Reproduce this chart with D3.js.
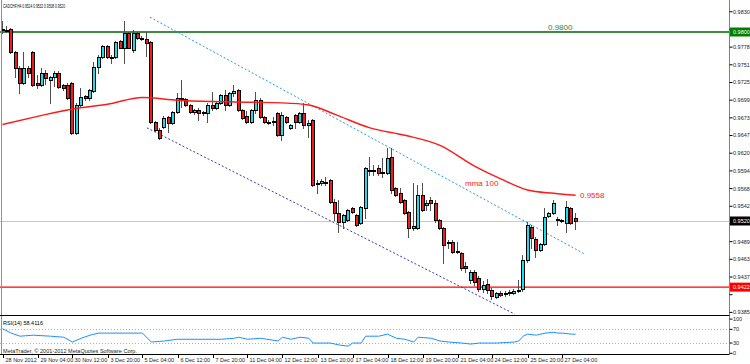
<!DOCTYPE html>
<html>
<head>
<meta charset="utf-8">
<script src="https://cdn.jsdelivr.net/npm/d3@7"></script>
<style>
  body { margin: 0; background: #fff; }
  text { font-family: "Liberation Sans", Arial, sans-serif; }
</style>
</head>
<body>
<div id="chart"></div>
<script>
// CADCHF H4 candles (bar 0 = leftmost)
const open = [
  0.9803, 0.9803, 0.9804, 0.9770, 0.9746, 0.9724, 0.9746, 0.9770, 0.9724, 0.9721,
  0.9739, 0.9729, 0.9733, 0.9740, 0.9721, 0.9721, 0.9724, 0.9650, 0.9692, 0.9705,
  0.9702, 0.9712, 0.9748, 0.9763, 0.9779, 0.9763, 0.9763, 0.9786, 0.9776, 0.9798,
  0.9773, 0.9798, 0.9791, 0.9789, 0.9785, 0.9666, 0.9655, 0.9659, 0.9674, 0.9665,
  0.9681, 0.9701, 0.9701, 0.9692, 0.9681, 0.9684, 0.9680, 0.9680, 0.9692, 0.9687,
  0.9695, 0.9706, 0.9692, 0.9709, 0.9714, 0.9684, 0.9675, 0.9666, 0.9684, 0.9699,
  0.9674, 0.9666, 0.9668, 0.9680, 0.9647, 0.9674, 0.9658, 0.9677, 0.9666, 0.9680,
  0.9662, 0.9669, 0.9576, 0.9576, 0.9578, 0.9581, 0.9548, 0.9532, 0.9518, 0.9521,
  0.9539, 0.9529, 0.9517, 0.9539, 0.9595, 0.9595, 0.9598, 0.9592, 0.9591, 0.9615,
  0.9569, 0.9561, 0.9551, 0.9533, 0.9510, 0.9510, 0.9558, 0.9544, 0.9551, 0.9547,
  0.9521, 0.9510, 0.9487, 0.9489, 0.9474, 0.9473, 0.9453, 0.9433, 0.9444, 0.9436,
  0.9419, 0.9427, 0.9418, 0.9407, 0.9413, 0.9412, 0.9413, 0.9413, 0.9416, 0.9419,
  0.9462, 0.9511, 0.9493, 0.9477, 0.9486, 0.9527, 0.9532, 0.9523, 0.9521, 0.9517,
  0.9539, 0.9524];
const high = [
  0.9816, 0.9809, 0.9806, 0.9772, 0.9749, 0.9770, 0.9749, 0.9772, 0.9736, 0.9746,
  0.9743, 0.9735, 0.9742, 0.9742, 0.9723, 0.9724, 0.9726, 0.9695, 0.9717, 0.9706,
  0.9715, 0.9755, 0.9766, 0.9780, 0.9780, 0.9766, 0.9786, 0.9788, 0.9817, 0.9800,
  0.9803, 0.9800, 0.9794, 0.9800, 0.9786, 0.9668, 0.9658, 0.9675, 0.9675, 0.9683,
  0.9709, 0.9729, 0.9702, 0.9693, 0.9686, 0.9687, 0.9683, 0.9695, 0.9711, 0.9696,
  0.9708, 0.9714, 0.9711, 0.9721, 0.9715, 0.9686, 0.9683, 0.9686, 0.9711, 0.9702,
  0.9675, 0.9669, 0.9674, 0.9681, 0.9681, 0.9675, 0.9663, 0.9678, 0.9681, 0.9695,
  0.9669, 0.9671, 0.9581, 0.9582, 0.9585, 0.9582, 0.9552, 0.9551, 0.9530, 0.9538,
  0.9541, 0.9530, 0.9542, 0.9600, 0.9615, 0.9603, 0.9603, 0.9613, 0.9628, 0.9628,
  0.9570, 0.9569, 0.9552, 0.9535, 0.9576, 0.9573, 0.9576, 0.9551, 0.9555, 0.9551,
  0.9523, 0.9511, 0.9492, 0.9492, 0.9489, 0.9474, 0.9459, 0.9447, 0.9447, 0.9439,
  0.9431, 0.9434, 0.9421, 0.9415, 0.9416, 0.9416, 0.9418, 0.9419, 0.9433, 0.9470,
  0.9518, 0.9514, 0.9496, 0.9487, 0.9539, 0.9533, 0.9551, 0.9526, 0.9523, 0.9550,
  0.9541, 0.9532];
const low = [
  0.9798, 0.9800, 0.9769, 0.9733, 0.9709, 0.9723, 0.9733, 0.9720, 0.9717, 0.9720,
  0.9723, 0.9695, 0.9720, 0.9717, 0.9714, 0.9701, 0.9649, 0.9649, 0.9690, 0.9699,
  0.9699, 0.9711, 0.9739, 0.9761, 0.9761, 0.9754, 0.9761, 0.9776, 0.9754, 0.9776,
  0.9770, 0.9789, 0.9788, 0.9764, 0.9665, 0.9653, 0.9641, 0.9658, 0.9652, 0.9663,
  0.9680, 0.9689, 0.9690, 0.9680, 0.9678, 0.9669, 0.9677, 0.9666, 0.9684, 0.9686,
  0.9693, 0.9684, 0.9690, 0.9705, 0.9683, 0.9671, 0.9665, 0.9665, 0.9680, 0.9672,
  0.9665, 0.9663, 0.9662, 0.9646, 0.9640, 0.9665, 0.9656, 0.9658, 0.9665, 0.9658,
  0.9644, 0.9572, 0.9561, 0.9573, 0.9573, 0.9547, 0.9521, 0.9504, 0.9510, 0.9520,
  0.9532, 0.9513, 0.9515, 0.9524, 0.9588, 0.9588, 0.9588, 0.9585, 0.9589, 0.9561,
  0.9557, 0.9547, 0.9530, 0.9496, 0.9507, 0.9508, 0.9535, 0.9536, 0.9536, 0.9518,
  0.9508, 0.9458, 0.9480, 0.9473, 0.9473, 0.9447, 0.9444, 0.9428, 0.9425, 0.9416,
  0.9415, 0.9413, 0.9404, 0.9406, 0.9409, 0.9409, 0.9410, 0.9412, 0.9415, 0.9416,
  0.9459, 0.9480, 0.9467, 0.9476, 0.9484, 0.9526, 0.9530, 0.9514, 0.9518, 0.9504,
  0.9515, 0.9508];
const close = [
  0.9804, 0.9802, 0.9770, 0.9746, 0.9724, 0.9746, 0.9739, 0.9721, 0.9721, 0.9739,
  0.9732, 0.9733, 0.9740, 0.9718, 0.9717, 0.9702, 0.9650, 0.9692, 0.9703, 0.9702,
  0.9714, 0.9748, 0.9763, 0.9779, 0.9763, 0.9762, 0.9785, 0.9777, 0.9798, 0.9777,
  0.9798, 0.9791, 0.9790, 0.9783, 0.9666, 0.9655, 0.9643, 0.9672, 0.9665, 0.9681,
  0.9702, 0.9702, 0.9692, 0.9681, 0.9684, 0.9680, 0.9681, 0.9692, 0.9687, 0.9695,
  0.9706, 0.9692, 0.9709, 0.9712, 0.9684, 0.9672, 0.9666, 0.9684, 0.9699, 0.9674,
  0.9666, 0.9667, 0.9667, 0.9647, 0.9677, 0.9666, 0.9662, 0.9666, 0.9680, 0.9662,
  0.9665, 0.9573, 0.9575, 0.9579, 0.9577, 0.9548, 0.9532, 0.9518, 0.9529, 0.9536,
  0.9533, 0.9514, 0.9541, 0.9598, 0.9594, 0.9594, 0.9591, 0.9593, 0.9613, 0.9566,
  0.9558, 0.9548, 0.9532, 0.9510, 0.9513, 0.9558, 0.9536, 0.9547, 0.9547, 0.9521,
  0.9510, 0.9484, 0.9489, 0.9474, 0.9476, 0.9450, 0.9450, 0.9444, 0.9430, 0.9419,
  0.9425, 0.9418, 0.9409, 0.9413, 0.9410, 0.9413, 0.9415, 0.9416, 0.9418, 0.9462,
  0.9514, 0.9495, 0.9477, 0.9486, 0.9526, 0.9532, 0.9547, 0.9522, 0.9521, 0.9541,
  0.9517, 0.9520];

// time axis labels, one every 8 bars
const timeLabelBars = [0, 8, 16, 24, 32, 40, 48, 56, 64, 72, 80, 88, 96, 104, 112, 120, 128];
const timeLabels = ["28 Nov 2012", "29 Nov 04:00", "30 Nov 12:00", "3 Dec 20:00", "5 Dec 04:00",
  "6 Dec 12:00", "7 Dec 20:00", "11 Dec 04:00", "12 Dec 12:00", "13 Dec 20:00", "17 Dec 04:00",
  "18 Dec 12:00", "19 Dec 20:00", "21 Dec 04:00", "24 Dec 12:00", "25 Dec 20:00", "27 Dec 04:00"];

// price axis ticks
const priceTicks = [0.98300, 0.98038, 0.97776, 0.97514, 0.97252, 0.96990, 0.96728, 0.96466, 0.96204,
  0.95942, 0.95680, 0.95418, 0.95156, 0.94894, 0.94632, 0.94370, 0.94108, 0.93846];

// moving average (100) read at some bars: [bar, price]
const maBars = [0, 8, 16, 24, 32, 40, 48, 56, 64, 70, 76, 84, 92, 100, 108, 114, 120, 126, 131];
const maValues = [0.9663, 0.9675, 0.9686, 0.9693, 0.9703, 0.9699, 0.9697, 0.9696, 0.9695, 0.9692,
  0.9678, 0.9658, 0.9647, 0.9632, 0.9601, 0.9582, 0.9566, 0.9561, 0.9558];

// RSI(14) read at some bars
const rsiBars = [0, 2, 4, 7, 11, 14, 16, 18, 20, 22, 25, 28, 32, 34, 37, 40, 44, 47, 50, 53, 54, 56,
  59, 63, 64, 66, 68, 70, 71, 75, 77, 79, 80, 82, 83, 86, 88, 90, 92, 94, 95, 98, 100, 102, 105,
  107, 109, 111, 113, 117, 118, 119, 120, 122, 124, 126, 127, 128, 130, 131];
const rsiValues = [72, 59, 50, 53, 50, 47, 33, 44, 53, 59, 59, 59, 59, 33, 36, 41, 41, 41, 41, 44, 47, 41,
  44, 36, 47, 41, 47, 44, 30, 30, 24, 21, 30, 30, 50, 50, 56, 44, 41, 33, 47, 44, 36, 33, 30,
  27, 30, 30, 30, 33, 36, 50, 56, 53, 59, 61, 59, 59, 56, 56];

// channel lines: [bar, price] endpoints
const upperChannel = [[33.7, 0.9822], [133.1, 0.9471]];
const lowerChannel = [[33.0, 0.9658], [117.1, 0.9382]];

// horizontal levels
const greenLevel = 0.9800, redLevel = 0.9422, lastPrice = 0.9520;
const rsiLevels = [70, 30];
const rsiAxisTicks = [100, 70, 30, 0];

drawChart("#chart");

function drawChart(element) {
  const width = 750, height = 364;
  const axisX = 729.5;
  const mainTop = 0, mainBottom = 315.5;

  let svg = d3.select(element)
    .append("svg")
      .attr("width", width)
      .attr("height", height)
      .style("display", "block")
      .style("background", "#fff");

  // scales
  let x = d3.scaleLinear().domain([0, 131]).range([2.5, 2.5 + 131 * 4.375]);
  let y = d3.scaleLinear().domain([0.9800, 0.9520]).range([32, 221]);
  let yr = d3.scaleLinear().domain([0, 100]).range([353.3, 319.1]);

  svg.append("defs").append("clipPath").attr("id", "main")
    .append("rect").attr("x", 0).attr("y", mainTop).attr("width", axisX).attr("height", mainBottom - mainTop);

  // horizontal levels
  svg.append("line")
    .attr("x1", 0).attr("x2", axisX).attr("y1", Math.round(y(lastPrice)) + 0.5).attr("y2", Math.round(y(lastPrice)) + 0.5)
    .attr("stroke", "#c8c8c8").attr("stroke-width", 1);
  svg.append("line")
    .attr("x1", 0).attr("x2", axisX).attr("y1", y(redLevel)).attr("y2", y(redLevel))
    .attr("stroke", "#ff0000").attr("stroke-width", 1.3);
  svg.append("line")
    .attr("x1", 0).attr("x2", axisX).attr("y1", y(greenLevel)).attr("y2", y(greenLevel))
    .attr("stroke", "#006400").attr("stroke-width", 1.3);

  let plot = svg.append("g").attr("clip-path", "url(#main)");

  // channel lines
  let tl = d3.line().x(d => x(d[0])).y(d => y(d[1]));
  plot.append("path").attr("d", tl(upperChannel))
    .attr("fill", "none").attr("stroke", "#1e9ee0").attr("stroke-width", 1).attr("stroke-dasharray", "2,2");
  plot.append("path").attr("d", tl(lowerChannel))
    .attr("fill", "none").attr("stroke", "#3a3aa8").attr("stroke-width", 1).attr("stroke-dasharray", "2,2");

  // candles
  let bars = open.map((o, i) => ({ i: i, o: o, h: high[i], l: low[i], c: close[i] }));
  let candle = plot.append("g").selectAll("g").data(bars).enter().append("g");

  candle.append("line")
    .attr("x1", d => Math.round(x(d.i) - 2) + 1.5)
    .attr("x2", d => Math.round(x(d.i) - 2) + 1.5)
    .attr("y1", d => Math.round(y(d.h)))
    .attr("y2", d => Math.round(y(d.l)) + 1)
    .attr("stroke", "#505050").attr("stroke-width", 1);

  candle.append("rect")
    .attr("x", d => Math.round(x(d.i) - 2) + 0.5)
    .attr("y", d => Math.round(y(Math.max(d.o, d.c))) + 0.5)
    .attr("width", 3)
    .attr("height", d => Math.max(1, Math.round(y(Math.min(d.o, d.c))) - Math.round(y(Math.max(d.o, d.c)))))
    .attr("fill", d => d.c > d.o ? "#22dcec" : (d.c < d.o ? "#ee1c1c" : "#000"))
    .attr("stroke", "#000").attr("stroke-width", 1);

  // moving average
  let ma = maBars.map((b, i) => [b, maValues[i]]);
  plot.append("path")
    .attr("d", d3.line().x(d => x(d[0])).y(d => y(d[1])).curve(d3.curveMonotoneX)(ma))
    .attr("fill", "none").attr("stroke", "#ff1a1a").attr("stroke-width", 1.5);

  // chart labels
  svg.append("text").attr("x", 465).attr("y", 186)
    .attr("font-size", 8).attr("fill", "#ff2020").text("mma 100");
  svg.append("text").attr("x", 580).attr("y", 198)
    .attr("font-size", 8).attr("fill", "#ff2020").text("0.9558");
  svg.append("text").attr("x", 548).attr("y", 30)
    .attr("font-size", 8).attr("fill", "#2a8a2a").text("0.9800");

  // title
  svg.append("text").attr("x", 3).attr("y", 8)
    .attr("font-size", 5.5).attr("fill", "#000")
    .attr("textLength", 62).attr("lengthAdjust", "spacingAndGlyphs")
    .text("CADCHF,H4  0.9524 0.9532 0.9508 0.9520");

  // frame and separators
  svg.append("line").attr("x1", 1.5).attr("x2", 1.5).attr("y1", 0).attr("y2", 354)
    .attr("stroke", "#909090");
  svg.append("line").attr("x1", axisX).attr("x2", axisX).attr("y1", 0).attr("y2", 354)
    .attr("stroke", "#808080");
  svg.append("line").attr("x1", 0).attr("x2", axisX).attr("y1", mainBottom).attr("y2", mainBottom)
    .attr("stroke", "#000");
  svg.append("line").attr("x1", 0).attr("x2", axisX).attr("y1", 354.5).attr("y2", 354.5)
    .attr("stroke", "#000");

  // highlighted axis boxes
  let boxes = [
    { v: greenLevel, fill: "#008000" },
    { v: lastPrice, fill: "#000" },
    { v: redLevel, fill: "#ff0000" }
  ];

  // price axis (labels hidden under a highlighted box are skipped)
  let ticks = svg.append("g").selectAll("g").data(priceTicks).enter().append("g")
    .attr("transform", d => "translate(0," + y(d) + ")");
  ticks.append("line").attr("x1", axisX).attr("x2", axisX + 3).attr("stroke", "#000");
  ticks.filter(d => boxes.every(b => Math.abs(y(b.v) - y(d)) > 8))
    .append("text").attr("x", 733).attr("dy", "0.35em")
    .attr("font-size", 5.5).attr("fill", "#222").text(d => d.toFixed(4));

  let bx = svg.append("g").selectAll("g").data(boxes).enter().append("g")
    .attr("transform", d => "translate(0," + y(d.v) + ")");
  bx.append("rect").attr("x", axisX + 0.5).attr("y", -4.5).attr("width", 20).attr("height", 9)
    .attr("fill", d => d.fill);
  bx.append("text").attr("x", 733).attr("dy", "0.35em")
    .attr("font-size", 5.5).attr("fill", "#fff").text(d => d.v.toFixed(4));

  // RSI panel
  svg.append("text").attr("x", 3).attr("y", 325)
    .attr("font-size", 5.5).attr("fill", "#000").text("RSI(14) 58.4116");
  svg.append("g").selectAll("line").data(rsiLevels).enter().append("line")
    .attr("x1", 0).attr("x2", axisX).attr("y1", d => Math.round(yr(d)) + 0.5).attr("y2", d => Math.round(yr(d)) + 0.5)
    .attr("stroke", "#b0b0b0").attr("stroke-dasharray", "1,2");
  let rsi = rsiBars.map((b, i) => [b, rsiValues[i]]);
  svg.append("path")
    .attr("d", d3.line().x(d => x(d[0])).y(d => yr(d[1]))(rsi))
    .attr("fill", "none").attr("stroke", "#1e90ff").attr("stroke-width", 1);
  let rt = svg.append("g").selectAll("g").data(rsiAxisTicks).enter().append("g")
    .attr("transform", d => "translate(0," + yr(d) + ")");
  rt.append("line").attr("x1", axisX).attr("x2", axisX + 3).attr("stroke", "#000");
  rt.append("text").attr("x", 733).attr("dy", "0.35em")
    .attr("font-size", 5.5).attr("fill", "#222").text(d => d);

  svg.append("text").attr("x", 3).attr("y", 352.5)
    .attr("font-size", 5.5).attr("fill", "#222")
    .attr("textLength", 134).attr("lengthAdjust", "spacingAndGlyphs")
    .text("MetaTrader, \u00a9 2001-2012 MetaQuotes Software Corp.");

  // time axis
  let tx = svg.append("g").selectAll("g").data(timeLabelBars).enter().append("g")
    .attr("transform", d => "translate(" + (Math.round(x(d)) + 0.5) + ",0)");
  tx.append("line").attr("y1", 354).attr("y2", 358).attr("stroke", "#000");
  tx.append("text").attr("x", 2).attr("y", 362)
    .attr("font-size", 5.5).attr("fill", "#222").text((d, i) => timeLabels[i]);
}
</script>
</body>
</html>
